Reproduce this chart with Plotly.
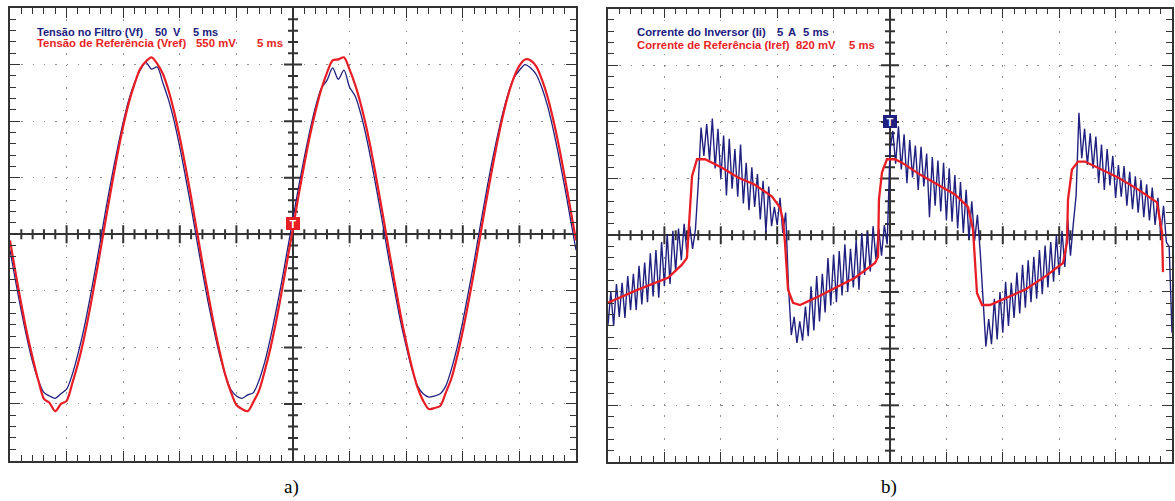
import numpy as np
import plotly.graph_objects as go

W, H = 1175, 501

# Oscilloscope settings (units per division)
MS_DIV = 5.0          # time base, ms/div
VF_DIV = 50.0         # filter voltage, V/div
VREF_DIV = 0.55       # reference voltage, V/div
II_DIV = 5.0          # inverter current, A/div
IREF_DIV = 820.0      # current reference, mV/div

# ---------------- a) filter voltage and voltage reference ----------------
# samples every 0.5 ms, time relative to the trigger
t_a = np.arange(101) * 0.5 - 25.0

vf = [
    -14, -42, -68, -92, -113, -129, -140, -143, -145, -141,
    -137, -124, -106, -85, -60, -33, -5, 24, 51, 76,
    99, 119, 134, 145, 152, 146, 148, 134, 119, 100,
    77, 51, 24, -5, -33, -60, -84, -106, -124, -137,
    -143, -145, -142, -140, -129, -113, -92, -68, -42, -14,
    14, 42, 68, 92, 113, 129, 136, 147, 137, 145,
    130, 122, 106, 85, 60, 33, 5, -24, -51, -77,
    -99, -119, -134, -141, -144, -143, -141, -134, -119, -100,
    -77, -51, -24, 5, 33, 60, 84, 106, 124, 138,
    145, 150, 147, 141, 129, 113, 92, 68, 42, 14,
    -14,
]

vref = [
    -0.06, -0.38, -0.68, -0.96, -1.20, -1.42, -1.60, -1.64, -1.72, -1.65,
    -1.62, -1.45, -1.26, -1.03, -0.76, -0.46, -0.15, 0.17, 0.48, 0.78,
    1.05, 1.28, 1.46, 1.61, 1.68, 1.72, 1.66, 1.56, 1.40, 1.19,
    0.94, 0.66, 0.36, 0.04, -0.28, -0.58, -0.87, -1.13, -1.36, -1.53,
    -1.66, -1.70, -1.72, -1.63, -1.52, -1.33, -1.11, -0.85, -0.56, -0.25,
    0.06, 0.38, 0.68, 0.96, 1.20, 1.41, 1.57, 1.69, 1.70, 1.72,
    1.60, 1.45, 1.26, 1.03, 0.76, 0.46, 0.15, -0.17, -0.48, -0.78,
    -1.05, -1.29, -1.49, -1.62, -1.70, -1.69, -1.67, -1.54, -1.40, -1.19,
    -0.94, -0.66, -0.36, -0.04, 0.28, 0.58, 0.87, 1.13, 1.35, 1.52,
    1.64, 1.70, 1.69, 1.63, 1.50, 1.33, 1.11, 0.85, 0.56, 0.25,
    -0.06,
]

# ---------------- b) inverter current and current reference ----------------
# samples every 0.25 ms, time relative to the trigger
t_b = np.arange(201) * 0.25 - 25.0

ii = [
    -7.9, -5.0, -8.0, -4.3, -7.2, -4.2, -7.3, -3.6, -6.6, -3.4,
    -6.6, -2.7, -6.1, -2.4, -5.9, -1.6, -5.4, -1.3, -5.5, -0.6,
    -4.5, 0.1, -4.3, 0.4, -3.2, 0.6, -2.2, 1.0, -1.6, 0.8,
    -1.2, 0.5, 4.5,
    9.5, 7.0, 9.8, 6.6, 10.3, 5.9, 9.4, 5.0, 8.8, 3.5,
    8.5, 4.1, 7.6, 3.4, 8.0, 2.8, 6.4, 2.2, 6.0, 2.5,
    5.4, 1.4, 4.8, 0.3, 4.3, 0.8, 2.5, 0.9, 3.3, 0.2,
    2.0, -4.5, -8.8,
    -7.2, -9.5, -7.6, -9.3, -6.3, -8.9, -4.5, -8.4, -3.6, -7.6,
    -3.4, -6.8, -2.0, -6.2, -1.7, -5.9, -1.4, -5.3, -0.8, -5.0,
    -1.2, -4.6, -0.4, -4.8, 0.2, -3.5, 0.3, -3.2, 0.8, -2.1,
    0.6, -1.8, 0.9, -0.8, 7.5, 9.2, 6.3,
    9.6, 5.8, 8.9, 4.6, 8.4, 5.1, 7.9, 4.0, 7.8, 4.3,
    7.2, 1.6, 6.9, 2.6, 6.6, 2.1, 6.4, 1.3, 5.9, 1.2,
    5.3, 0.6, 4.7, 0.2, 4.0, -0.3, 3.0, -0.5, 1.8, -1.5,
    -6.0, -9.8,
    -7.4, -9.6, -5.6, -9.2, -5.0, -8.6, -4.1, -8.0, -4.2, -7.3,
    -3.3, -6.9, -2.6, -6.4, -2.2, -5.9, -1.9, -5.6, -1.3, -5.2,
    -0.9, -4.6, -0.6, -4.1, 0.0, -3.5, 0.4, -2.8, 1.4, -1.8,
    1.0, 3.5, 10.8, 6.8,
    9.4, 6.2, 9.0, 5.9, 8.7, 4.6, 8.0, 4.0, 7.6, 4.4,
    7.0, 3.3, 6.2, 3.4, 6.1, 2.6, 5.6, 2.3, 5.2, 2.0,
    4.9, 1.6, 4.5, 1.3, 4.2, 0.9, 3.3, 0.0, 2.6, -0.6,
    -1.0, -8.6,
]

t_iref = [
    -25.00, -22.34, -19.68, -18.44, -18.00, -17.73, -17.55, -17.11, -16.40, -14.89,
    -13.48, -11.97, -10.46, -9.75, -9.49, -9.31, -9.04, -8.60, -7.98, -6.65,
    -4.88, -3.10, -1.33, -1.06, -0.98, -0.71, -0.27, 0.44, 1.06, 2.66,
    4.25, 5.76, 6.91, 7.36, 7.71, 8.16, 8.86, 10.19, 11.97, 13.74,
    15.34, 15.69, 15.78, 16.13, 16.67, 17.29, 18.44, 20.21, 21.98, 23.67,
    24.12, 24.20,
]
iref = [
    -976, -787, -615, -426, -328, 369, 853, 1099, 1099, 976,
    836, 730, 558, 402, 221, -107, -787, -976, -1009, -910,
    -763, -615, -402, -312, 517, 910, 1099, 1099, 1050, 877,
    730, 590, 410, 82, -836, -1009, -1009, -910, -787, -599,
    -402, -107, 517, 951, 1066, 1066, 976, 836, 664, 476,
    33, -533,
]

NAVY = "rgb(32,32,128)"
RED = "rgb(232,30,36)"
FRAME = "#333333"
PX_PER_DIV = 56.6

fig = go.Figure()


def frame_axis(unit_div):
    return dict(
        showline=True, linecolor=FRAME, linewidth=1.6, mirror="ticks",
        ticks="inside", ticklen=10, tickwidth=1.4, tickcolor=FRAME,
        dtick=unit_div, tick0=0, showticklabels=False,
        showgrid=True, gridcolor="#8e8e8e", gridwidth=1.3, griddash="1.6px,9.7px",
        zeroline=True, zerolinecolor=FRAME, zerolinewidth=1.6,
        minor=dict(ticks="inside", ticklen=6, tickwidth=1.2, tickcolor=FRAME,
                   dtick=unit_div / 5, showgrid=False),
        fixedrange=True,
    )


def centre_ticks(xa, ya, y_div):
    # graduations on the centre cross-hair: 5 px minor, 9 px major half-length
    xs, ys = [], []
    step = MS_DIV / 5
    for i in range(1, 50):
        xv = -25 + i * step
        half = (9 if i % 5 == 0 else 5) / PX_PER_DIV * y_div
        xs += [xv, xv, None]
        ys += [-half, half, None]
    for j in range(1, 40):
        yv = -4 * y_div + j * y_div / 5
        half = (9 if j % 5 == 0 else 5) / PX_PER_DIV * MS_DIV
        xs += [-half, half, None]
        ys += [yv, yv, None]
    fig.add_trace(go.Scatter(x=xs, y=ys, xaxis=xa, yaxis=ya, mode="lines",
                             line=dict(color=FRAME, width=2),
                             hoverinfo="skip", showlegend=False, connectgaps=False))


centre_ticks("x", "y", VF_DIV)
centre_ticks("x2", "y3", II_DIV)

# waveforms
fig.add_trace(go.Scatter(x=t_a, y=vf, xaxis="x", yaxis="y", mode="lines",
                         line=dict(color=NAVY, width=1.3, shape="spline", smoothing=0.8),
                         name="Vf", showlegend=False))
fig.add_trace(go.Scatter(x=t_a, y=vref, xaxis="x", yaxis="y2", mode="lines",
                         line=dict(color=RED, width=2.2, shape="spline", smoothing=0.8),
                         name="Vref", showlegend=False))
fig.add_trace(go.Scatter(x=t_b, y=ii, xaxis="x2", yaxis="y3", mode="lines",
                         line=dict(color=NAVY, width=1.4), name="Ii", showlegend=False))
fig.add_trace(go.Scatter(x=t_iref, y=iref, xaxis="x2", yaxis="y4", mode="lines",
                         line=dict(color=RED, width=2.3), name="Iref", showlegend=False))

fig.update_layout(
    width=W, height=H, margin=dict(l=0, r=0, t=0, b=0),
    paper_bgcolor="white", plot_bgcolor="white", showlegend=False,
    xaxis=dict(frame_axis(MS_DIV), domain=[10 / W, 576 / W], range=[-25, 25], anchor="y"),
    yaxis=dict(frame_axis(VF_DIV), domain=[1 - 460.5 / H, 1 - 8 / H],
               range=[-4 * VF_DIV, 4 * VF_DIV], anchor="x"),
    yaxis2=dict(overlaying="y", range=[-4 * VREF_DIV, 4 * VREF_DIV], anchor="x",
                visible=False, fixedrange=True),
    xaxis2=dict(frame_axis(MS_DIV), domain=[608 / W, 1172 / W], range=[-25, 25], anchor="y3"),
    yaxis3=dict(frame_axis(II_DIV), domain=[1 - 462 / H, 1 - 8.5 / H],
                range=[-4 * II_DIV, 4 * II_DIV], anchor="x2"),
    yaxis4=dict(overlaying="y3", range=[-4 * IREF_DIV, 4 * IREF_DIV], anchor="x2",
                visible=False, fixedrange=True),
)


def caption(y_px, parts, color, size):
    # one channel read-out line, each field placed at its own column
    for x_px, text in parts:
        fig.add_annotation(xref="paper", yref="paper", x=x_px / W, y=1 - y_px / H,
                           xanchor="left", yanchor="middle", showarrow=False,
                           text="<b>" + text.replace(" ", "\u00a0") + "</b>",
                           font=dict(family="Liberation Sans", size=size, color=color))


caption(31.7, [(35, "Tensão no Filtro (Vf)"), (153, "50"), (171, "V"), (191, "5 ms")], NAVY, 11)
caption(43.5, [(35, "Tensão de Referência (Vref)"), (194, "550 mV"), (255, "5 ms")], RED, 11.4)
caption(32.3, [(635, "Corrente do Inversor (Ii)"), (775, "5"), (786, "A"), (801, "5 ms")], NAVY, 11.3)
caption(44.5, [(635, "Corrente de Referência (Iref)"), (794, "820 mV"), (847, "5 ms")], RED, 11.3)

# trigger markers
fig.add_annotation(xref="x", yref="y2", x=0, y=0.10, showarrow=False,
                   text="<b>T</b>", bgcolor=RED, bordercolor=RED, borderwidth=1,
                   width=12, height=11, borderpad=0,
                   font=dict(family="Liberation Sans", size=11, color="white"))
fig.add_annotation(xref="x2", yref="y3", x=0, y=10.0, showarrow=False,
                   text="<b>T</b>", bgcolor=NAVY, bordercolor=NAVY, borderwidth=1,
                   width=12, height=11, borderpad=0,
                   font=dict(family="Liberation Sans", size=11, color="white"))

# panel labels
for xc, lab in [(291, "a)"), (889, "b)")]:
    fig.add_annotation(xref="paper", yref="paper", x=xc / W, y=1 - 487 / H,
                       xanchor="center", yanchor="middle", showarrow=False, text=lab,
                       font=dict(family="Liberation Serif", size=19, color="black"))

fig.write_html("out.html", config={"displayModeBar": False})
